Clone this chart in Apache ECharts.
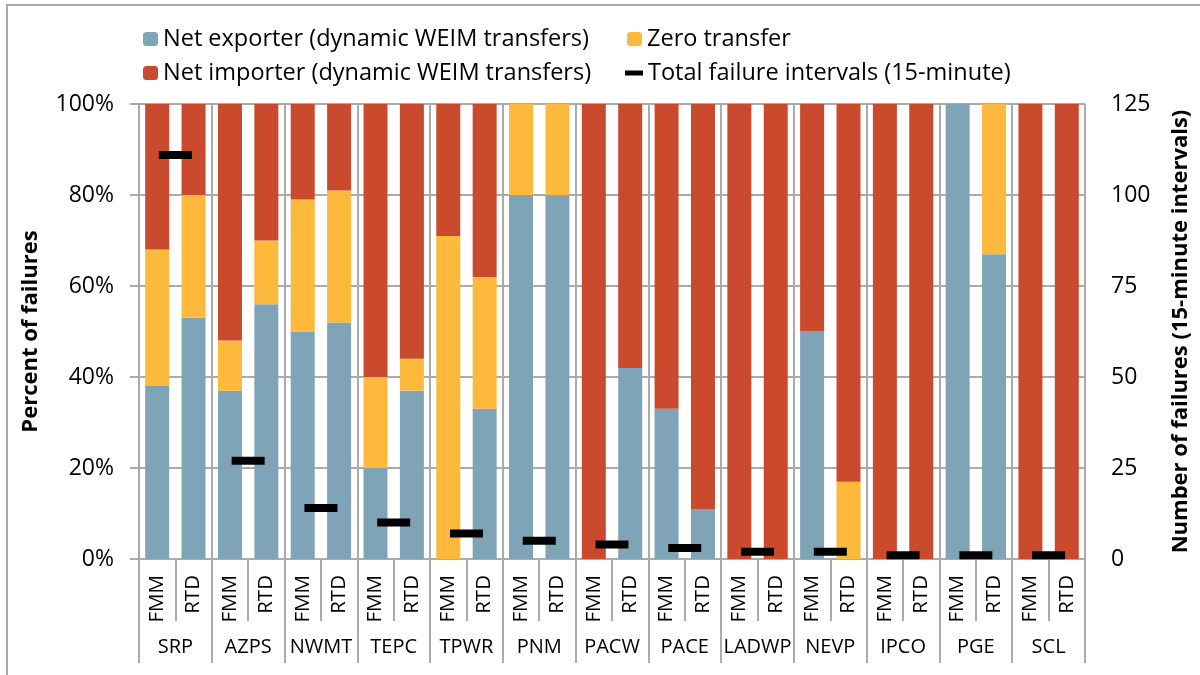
<!DOCTYPE html>
<html>
<head>
<meta charset="utf-8">
<script src="https://cdn.jsdelivr.net/npm/echarts@6/dist/echarts.min.js"></script>
<style>
html, body { margin: 0; padding: 0; background: #fff; }
#chart { width: 1200px; height: 675px; }
</style>
</head>
<body>
<div id="chart"></div>
<script>
// areas and the two market runs
var groups = ['SRP', 'AZPS', 'NWMT', 'TEPC', 'TPWR', 'PNM', 'PACW', 'PACE', 'LADWP', 'NEVP', 'IPCO', 'PGE', 'SCL'];
var runs = ['FMM', 'RTD'];

// percent of failures, FMM / RTD pairs per area
var netExporter = [38, 53, 37, 56, 50, 52, 20, 37, 0, 33, 80, 80, 0, 42, 33, 11, 0, 0, 50, 0, 0, 0, 100, 67, 0, 0];
var zeroTransfer = [30, 27, 11, 14, 29, 29, 20, 7, 71, 29, 20, 20, 0, 0, 0, 0, 0, 0, 0, 17, 0, 0, 0, 33, 0, 0];
var netImporter = [32, 20, 52, 30, 21, 19, 60, 56, 29, 38, 0, 0, 100, 58, 67, 89, 100, 100, 50, 83, 100, 100, 0, 0, 100, 100];

// total failure intervals (15-minute), one per area
var totalFailures = [111, 27, 14, 10, 7, 5, 4, 3, 2, 2, 1, 1, 1];

var leftTicks = [0, 20, 40, 60, 80, 100];
var rightTicks = [0, 25, 50, 75, 100, 125];

var runLabels = [];
groups.forEach(function () { runs.forEach(function (r) { runLabels.push(r); }); });

var FONT = 'Open Sans';
var GRID = '#ABABAB';
var names = ['Net exporter (dynamic WEIM transfers)', 'Zero transfer',
             'Net importer (dynamic WEIM transfers)', 'Total failure intervals (15-minute)'];

var legendText = { fontFamily: FONT, fontSize: 23.5, color: '#000' };
var mkLegend = function (name, left, top, w, h) {
    return {
        data: [name], left: left, top: top, itemWidth: w, itemHeight: h,
        textStyle: legendText, padding: 0, selectedMode: false
    };
};

var option = {
    animation: false,
    backgroundColor: '#fff',
    graphic: [{
        type: 'rect', shape: { x: 7, y: 5, width: 1220, height: 700 },
        style: { fill: 'none', stroke: '#ABABAB', lineWidth: 2 }, silent: true
    }],
    legend: [
        mkLegend(names[0], 143, 27, 15, 14),
        mkLegend(names[1], 627, 27, 15, 14),
        mkLegend(names[2], 143, 61, 15, 14),
        mkLegend(names[3], 625, 61, 18, 5)
    ],
    grid: { left: 139, right: 111, top: 104, bottom: 116 },
    xAxis: [
        {
            type: 'category',
            data: runLabels,
            position: 'bottom',
            axisLine: { show: true, lineStyle: { color: GRID, width: 2 } },
            axisTick: { show: true, interval: 0, length: 62, lineStyle: { color: GRID, width: 2 } },
            axisLabel: { interval: 0, rotate: 90, margin: 16, fontFamily: FONT, fontSize: 20.5, color: '#000' },
            splitLine: { show: false }
        },
        {
            type: 'category',
            data: groups,
            position: 'bottom',
            axisLine: { show: false },
            axisTick: { show: true, interval: 0, length: 104, lineStyle: { color: GRID, width: 2 } },
            axisLabel: { interval: 0, margin: 78, fontFamily: FONT, fontSize: 20, color: '#000' },
            splitLine: { show: true, interval: 0, lineStyle: { color: GRID, width: 2 } }
        }
    ],
    yAxis: [
        {
            type: 'value', min: leftTicks[0], max: leftTicks[leftTicks.length - 1], interval: 20,
            name: 'Percent of failures', nameLocation: 'middle', nameGap: 97,
            nameTextStyle: { fontFamily: FONT, fontSize: 22, fontWeight: 'bold', color: '#000' },
            axisLine: { show: true, lineStyle: { color: GRID, width: 2 } },
            axisTick: { show: true, length: 9, lineStyle: { color: GRID, width: 2 } },
            axisLabel: { formatter: '{value}%', margin: 25, fontFamily: FONT, fontSize: 23, color: '#000' },
            splitLine: { show: true, lineStyle: { color: GRID, width: 2 } }
        },
        {
            type: 'value', min: rightTicks[0], max: rightTicks[rightTicks.length - 1], interval: 25,
            name: 'Number of failures (15-minute intervals)', nameLocation: 'middle', nameGap: 85, nameRotate: 90,
            nameTextStyle: { fontFamily: FONT, fontSize: 22, fontWeight: 'bold', color: '#000' },
            axisLine: { show: false },
            axisTick: { show: false },
            axisLabel: { margin: 26, fontFamily: FONT, fontSize: 23, color: '#000', align: 'left' },
            splitLine: { show: false }
        }
    ],
    series: [
        { name: names[0], type: 'bar', stack: 'pct', barWidth: 24, data: netExporter, itemStyle: { color: '#80A4B7' } },
        { name: names[1], type: 'bar', stack: 'pct', barWidth: 24, data: zeroTransfer, itemStyle: { color: '#FDB93B' } },
        { name: names[2], type: 'bar', stack: 'pct', barWidth: 24, data: netImporter, itemStyle: { color: '#C94A2C' } },
        {
            name: names[3], type: 'scatter', xAxisIndex: 1, yAxisIndex: 1,
            symbol: 'rect', symbolSize: [33, 8], data: totalFailures,
            itemStyle: { color: '#000', opacity: 1 }, z: 10, clip: false
        }
    ]
};

var myChart = echarts.init(document.getElementById('chart'));
myChart.setOption(option);
</script>
</body>
</html>
